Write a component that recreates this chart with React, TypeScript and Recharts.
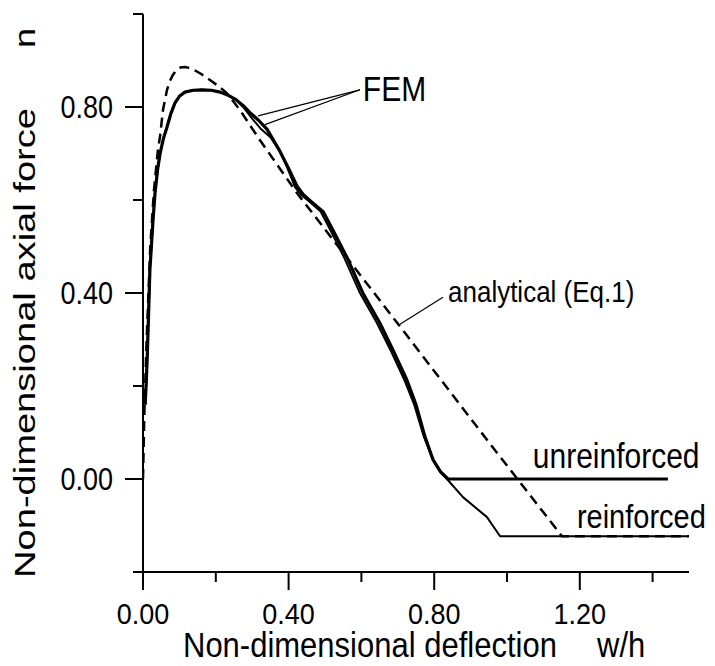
import { LineChart, Line, XAxis, YAxis, ReferenceLine, ReferenceDot } from 'recharts';

// analytical solution (Eq.1), dashed
const analyticalX = [0, 0.004, 0.010, 0.020, 0.030, 0.041, 0.047, 0.055, 0.066, 0.074, 0.082, 0.092, 0.103, 0.115, 0.128, 0.140, 0.160, 0.184, 0.207, 0.230, 0.266, 0.321, 0.423, 0.706, 0.959, 1.151, 1.500];
const analyticalN = [0, 0.15, 0.30, 0.50, 0.62, 0.708, 0.738, 0.794, 0.837, 0.856, 0.869, 0.879, 0.885, 0.886, 0.884, 0.880, 0.871, 0.858, 0.845, 0.830, 0.794, 0.729, 0.615, 0.328, 0.070, -0.123, -0.123];

// FEM, unreinforced
const unreinfX = [0.006, 0.009, 0.012, 0.019, 0.027, 0.033, 0.040, 0.047, 0.056, 0.066, 0.077, 0.088, 0.100, 0.115, 0.138, 0.162, 0.187, 0.212, 0.232, 0.253, 0.274, 0.294, 0.318, 0.341, 0.376, 0.400, 0.423, 0.440, 0.460, 0.495, 0.522, 0.560, 0.604, 0.651, 0.687, 0.725, 0.750, 0.775, 0.797, 0.818, 0.838, 1.442];
const unreinfN = [0.16, 0.21, 0.27, 0.45, 0.55, 0.615, 0.665, 0.700, 0.732, 0.757, 0.787, 0.809, 0.823, 0.832, 0.836, 0.837, 0.836, 0.832, 0.826, 0.817, 0.804, 0.788, 0.771, 0.752, 0.705, 0.668, 0.630, 0.612, 0.598, 0.575, 0.535, 0.477, 0.400, 0.335, 0.277, 0.213, 0.160, 0.090, 0.041, 0.015, 0.0, 0.0];

// FEM, reinforced
const reinfX = [0.006, 0.009, 0.012, 0.019, 0.027, 0.033, 0.040, 0.047, 0.056, 0.066, 0.077, 0.088, 0.100, 0.115, 0.138, 0.162, 0.187, 0.212, 0.232, 0.253, 0.275, 0.300, 0.325, 0.350, 0.376, 0.397, 0.418, 0.436, 0.455, 0.488, 0.515, 0.552, 0.596, 0.643, 0.680, 0.718, 0.745, 0.772, 0.797, 0.816, 0.835, 0.879, 0.945, 0.981, 1.497];
const reinfN = [0.16, 0.21, 0.27, 0.45, 0.55, 0.615, 0.665, 0.700, 0.732, 0.757, 0.787, 0.809, 0.823, 0.832, 0.836, 0.837, 0.836, 0.832, 0.826, 0.817, 0.800, 0.775, 0.752, 0.735, 0.705, 0.668, 0.627, 0.610, 0.598, 0.575, 0.535, 0.477, 0.400, 0.335, 0.277, 0.213, 0.160, 0.090, 0.041, 0.017, 0.0, -0.039, -0.082, -0.123, -0.123];

const xTicks = [0, 0.2, 0.4, 0.6, 0.8, 1.0, 1.2, 1.4];
const xMajor = [0, 0.4, 0.8, 1.2];
const yTicks = [-0.2, 0, 0.2, 0.4, 0.6, 0.8, 1.0];
const yMajor = [0, 0.4, 0.8];

const toPoints = (xs: number[], ys: number[]) => xs.map((x, i) => ({ x, n: ys[i] }));

const FONT = '"Liberation Sans", Arial, Helvetica, sans-serif';
const STRETCH = 1.15;

const XTick = ({ x, y, payload }: any) => {
  const major = xMajor.includes(payload.value);
  return (
    <g>
      <line x1={x} y1={y} x2={x} y2={y + (major ? 18 : 10)} stroke="#000" strokeWidth={2} />
      {major && (
        <text transform={`translate(${x},${y + 52}) scale(1,1.1)`} textAnchor="middle"
          fontFamily={FONT} fontSize={27} fill="#000">
          {payload.value.toFixed(2)}
        </text>
      )}
    </g>
  );
};

const YTick = ({ x, y, payload }: any) => {
  const major = yMajor.includes(payload.value);
  return (
    <g>
      <line x1={x} y1={y} x2={x - (major ? 18 : 10)} y2={y} stroke="#000" strokeWidth={2} />
      {major && (
        <text transform={`translate(${x - 30},${y + 11}) scale(1,${STRETCH})`} textAnchor="end"
          fontFamily={FONT} fontSize={27} fill="#000">
          {payload.value.toFixed(2)}
        </text>
      )}
    </g>
  );
};

const XTitle = ({ viewBox }: any) => {
  const { x, y } = viewBox;
  return (
    <g fontFamily={FONT} fontSize={31} fill="#000">
      <text transform={`translate(${x + 40},${y + 85}) scale(1,1.12)`}>Non-dimensional deflection</text>
      <text transform={`translate(${x + 454},${y + 85}) scale(1,1.12)`}>w/h</text>
    </g>
  );
};

const YTitle = ({ viewBox }: any) => {
  const { x, y, height } = viewBox;
  return (
    <g fontFamily={FONT} fontSize={30} fill="#000">
      <text transform={`translate(${x - 13},${y + height + 6}) rotate(-90) scale(1.27,1)`}>Non-dimensional axial force</text>
      <text transform={`translate(${x - 13},${y + 34}) rotate(-90) scale(1.2,1)`}>n</text>
    </g>
  );
};

const Note = ({ viewBox, text, size = 30, anchor = 'start' }: any) => (
  <text transform={`translate(${viewBox.x + 1},${viewBox.y + 1}) scale(1,${STRETCH})`} textAnchor={anchor}
    fontFamily={FONT} fontSize={size} fill="#000">
    {text}
  </text>
);

export default function App() {
  return (
    <LineChart width={700} height={658} margin={{ top: 6, right: 19, bottom: 34, left: 40 }}>
      <XAxis
        type="number"
        dataKey="x"
        domain={[0, 1.5]}
        ticks={xTicks}
        interval={0}
        tickSize={0}
        tickMargin={0}
        tick={<XTick />}
        axisLine={{ stroke: '#000', strokeWidth: 2 }}
        height={60}
        allowDataOverflow
        label={<XTitle />}
      />
      <YAxis
        type="number"
        dataKey="n"
        domain={[-0.2, 1.0]}
        ticks={yTicks}
        interval={0}
        tickSize={0}
        tickMargin={0}
        tick={<YTick />}
        axisLine={{ stroke: '#000', strokeWidth: 2 }}
        width={95}
        allowDataOverflow
        label={<YTitle />}
      />
      <Line data={toPoints(analyticalX, analyticalN)} dataKey="n" type="linear" stroke="#000"
        strokeWidth={2.5} strokeDasharray="10 6" dot={false} isAnimationActive={false} />
      <Line data={toPoints(reinfX, reinfN)} dataKey="n" type="linear" stroke="#000"
        strokeWidth={2} strokeLinejoin="round" dot={false} isAnimationActive={false} />
      <Line data={toPoints(unreinfX, unreinfN)} dataKey="n" type="linear" stroke="#000"
        strokeWidth={3.2} strokeLinejoin="round" dot={false} isAnimationActive={false} />

      <ReferenceLine segment={[{ x: 0.596, y: 0.837 }, { x: 0.316, y: 0.781 }]} stroke="#000" strokeWidth={1.2} />
      <ReferenceLine segment={[{ x: 0.596, y: 0.837 }, { x: 0.335, y: 0.762 }]} stroke="#000" strokeWidth={1.2} />
      <ReferenceLine segment={[{ x: 0.824, y: 0.391 }, { x: 0.706, y: 0.333 }]} stroke="#000" strokeWidth={1.2} />

      <ReferenceDot x={0.604} y={0.813} r={1} fill="none" stroke="none" label={<Note text="FEM" size={30} />} />
      <ReferenceDot x={0.838} y={0.381} r={1} fill="none" stroke="none" label={<Note text="analytical (Eq.1)" size={26} />} />
      <ReferenceDot x={1.071} y={0.024} r={1} fill="none" stroke="none" label={<Note text="unreinforced" size={30} />} />
      <ReferenceDot x={1.192} y={-0.105} r={1} fill="none" stroke="none" label={<Note text="reinforced" size={29} />} />
    </LineChart>
  );
}
